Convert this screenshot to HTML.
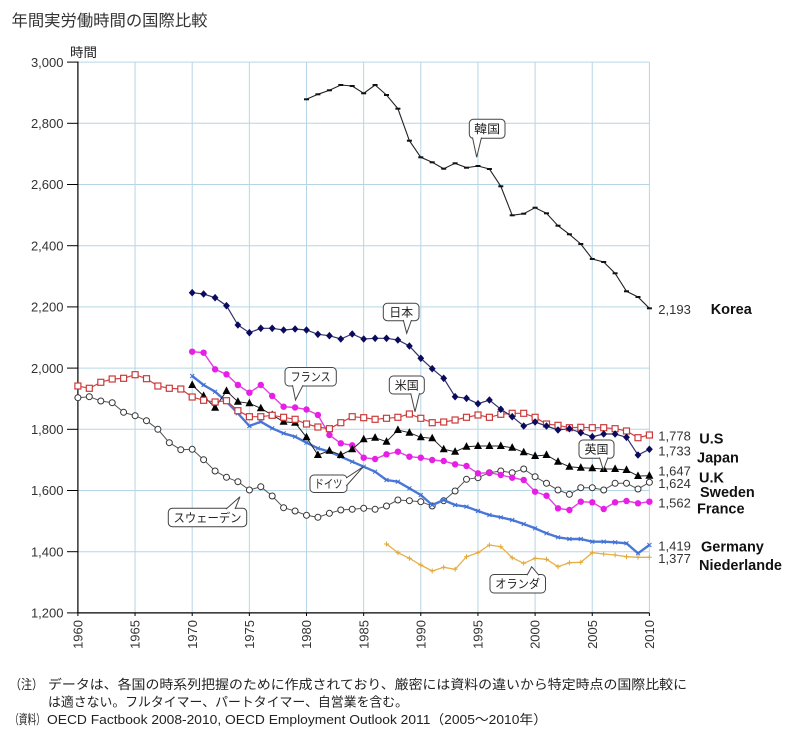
<!DOCTYPE html>
<html><head><meta charset="utf-8"><style>
html,body{margin:0;padding:0;background:#fff;}
svg{display:block;}
text{font-family:"Liberation Sans","Noto Sans CJK JP",sans-serif;}
</style></head><body>
<svg width="800" height="745" viewBox="0 0 800 745" xmlns="http://www.w3.org/2000/svg">
<defs>
<marker id="mDash" markerUnits="userSpaceOnUse" viewBox="-4 -4 8 8" markerWidth="8" markerHeight="8" refX="0" refY="0" overflow="visible"><rect x="-2.5" y="-1" width="5" height="2" fill="#111"/></marker>
<marker id="mDia" markerUnits="userSpaceOnUse" viewBox="-5 -5 10 10" markerWidth="10" markerHeight="10" refX="0" refY="0" overflow="visible"><path d="M0,-3.8 L3.4,0 L0,3.8 L-3.4,0 Z" fill="#0a0a5e"/></marker>
<marker id="mSq" markerUnits="userSpaceOnUse" viewBox="-5 -5 10 10" markerWidth="10" markerHeight="10" refX="0" refY="0" overflow="visible"><rect x="-3" y="-3" width="6" height="6" fill="#fff" stroke="#cc3b3b" stroke-width="1.2"/></marker>
<marker id="mTri" markerUnits="userSpaceOnUse" viewBox="-5 -5 10 10" markerWidth="10" markerHeight="10" refX="0" refY="0" overflow="visible"><path d="M0,-4.6 L4,3 L-4,3 Z" fill="#000"/></marker>
<marker id="mCir" markerUnits="userSpaceOnUse" viewBox="-5 -5 10 10" markerWidth="10" markerHeight="10" refX="0" refY="0" overflow="visible"><circle r="3.2" fill="#e61ee6"/></marker>
<marker id="mOc" markerUnits="userSpaceOnUse" viewBox="-5 -5 10 10" markerWidth="10" markerHeight="10" refX="0" refY="0" overflow="visible"><circle r="3" fill="#fff" stroke="#333" stroke-width="1"/></marker>
<marker id="mX" markerUnits="userSpaceOnUse" viewBox="-5 -5 10 10" markerWidth="10" markerHeight="10" refX="0" refY="0" overflow="visible"><path d="M-2,-2 L2,2 M-2,2 L2,-2" stroke="#3f6fd6" stroke-width="1"/></marker>
<marker id="mPl" markerUnits="userSpaceOnUse" viewBox="-5 -5 10 10" markerWidth="10" markerHeight="10" refX="0" refY="0" overflow="visible"><path d="M-2.5,0 L2.5,0 M0,-2.5 L0,2.5" stroke="#e0a838" stroke-width="1"/></marker>
</defs>

<!-- title -->
<text x="11.5" y="26" font-size="16" fill="#333" textLength="196" lengthAdjust="spacingAndGlyphs">年間実労働時間の国際比較</text>
<text x="70" y="57" font-size="13" fill="#222" textLength="27" lengthAdjust="spacingAndGlyphs">時間</text>

<!-- grid -->
<g stroke="#b6d6e6" stroke-width="1">
<line x1="77.9" y1="62.1" x2="649.4" y2="62.1"/>
<line x1="77.9" y1="123.3" x2="649.4" y2="123.3"/>
<line x1="77.9" y1="184.5" x2="649.4" y2="184.5"/>
<line x1="77.9" y1="245.7" x2="649.4" y2="245.7"/>
<line x1="77.9" y1="306.9" x2="649.4" y2="306.9"/>
<line x1="77.9" y1="368.1" x2="649.4" y2="368.1"/>
<line x1="77.9" y1="429.3" x2="649.4" y2="429.3"/>
<line x1="77.9" y1="490.5" x2="649.4" y2="490.5"/>
<line x1="77.9" y1="551.7" x2="649.4" y2="551.7"/>
<line x1="135.05" y1="62.1" x2="135.05" y2="612.9"/>
<line x1="192.2" y1="62.1" x2="192.2" y2="612.9"/>
<line x1="249.35" y1="62.1" x2="249.35" y2="612.9"/>
<line x1="306.5" y1="62.1" x2="306.5" y2="612.9"/>
<line x1="363.65" y1="62.1" x2="363.65" y2="612.9"/>
<line x1="420.8" y1="62.1" x2="420.8" y2="612.9"/>
<line x1="477.95" y1="62.1" x2="477.95" y2="612.9"/>
<line x1="535.1" y1="62.1" x2="535.1" y2="612.9"/>
<line x1="592.25" y1="62.1" x2="592.25" y2="612.9"/>
<line x1="649.4" y1="62.1" x2="649.4" y2="612.9"/>
</g>

<!-- axes -->
<g stroke="#000" stroke-width="1.2">
<line x1="77.9" y1="61.5" x2="77.9" y2="612.9"/>
<line x1="77.3" y1="612.9" x2="649.4" y2="612.9"/>
</g>
<g stroke="#000" stroke-width="1">
<line x1="67" y1="62.1" x2="77.9" y2="62.1"/>
<line x1="67" y1="123.3" x2="77.9" y2="123.3"/>
<line x1="67" y1="184.5" x2="77.9" y2="184.5"/>
<line x1="67" y1="245.7" x2="77.9" y2="245.7"/>
<line x1="67" y1="306.9" x2="77.9" y2="306.9"/>
<line x1="67" y1="368.1" x2="77.9" y2="368.1"/>
<line x1="67" y1="429.3" x2="77.9" y2="429.3"/>
<line x1="67" y1="490.5" x2="77.9" y2="490.5"/>
<line x1="67" y1="551.7" x2="77.9" y2="551.7"/>
<line x1="67" y1="612.9" x2="77.9" y2="612.9"/>
<line x1="77.9" y1="612.9" x2="77.9" y2="616"/>
<line x1="135.05" y1="612.9" x2="135.05" y2="616"/>
<line x1="192.2" y1="612.9" x2="192.2" y2="616"/>
<line x1="249.35" y1="612.9" x2="249.35" y2="616"/>
<line x1="306.5" y1="612.9" x2="306.5" y2="616"/>
<line x1="363.65" y1="612.9" x2="363.65" y2="616"/>
<line x1="420.8" y1="612.9" x2="420.8" y2="616"/>
<line x1="477.95" y1="612.9" x2="477.95" y2="616"/>
<line x1="535.1" y1="612.9" x2="535.1" y2="616"/>
<line x1="592.25" y1="612.9" x2="592.25" y2="616"/>
<line x1="649.4" y1="612.9" x2="649.4" y2="616"/>
</g>

<!-- y labels -->
<g font-size="13" fill="#333" text-anchor="end">
<text x="63.5" y="66.8">3,000</text>
<text x="63.5" y="128">2,800</text>
<text x="63.5" y="189.2">2,600</text>
<text x="63.5" y="250.4">2,400</text>
<text x="63.5" y="311.6">2,200</text>
<text x="63.5" y="372.8">2,000</text>
<text x="63.5" y="434">1,800</text>
<text x="63.5" y="495.2">1,600</text>
<text x="63.5" y="556.4">1,400</text>
<text x="63.5" y="617.6">1,200</text>
</g>

<!-- x labels -->
<g font-size="13" fill="#333" text-anchor="end">
<text transform="translate(77.9,620) rotate(-90)" dy="4.6">1960</text>
<text transform="translate(135.05,620) rotate(-90)" dy="4.6">1965</text>
<text transform="translate(192.2,620) rotate(-90)" dy="4.6">1970</text>
<text transform="translate(249.35,620) rotate(-90)" dy="4.6">1975</text>
<text transform="translate(306.5,620) rotate(-90)" dy="4.6">1980</text>
<text transform="translate(363.65,620) rotate(-90)" dy="4.6">1985</text>
<text transform="translate(420.8,620) rotate(-90)" dy="4.6">1990</text>
<text transform="translate(477.95,620) rotate(-90)" dy="4.6">1995</text>
<text transform="translate(535.1,620) rotate(-90)" dy="4.6">2000</text>
<text transform="translate(592.25,620) rotate(-90)" dy="4.6">2005</text>
<text transform="translate(649.4,620) rotate(-90)" dy="4.6">2010</text>
</g>

<!-- series -->
<polyline fill="none" stroke="#555" stroke-width="1" marker-start="url(#mOc)" marker-mid="url(#mOc)" marker-end="url(#mOc)" points="77.9,397.7 89.3,396.7 100.8,401 112.2,402.7 123.6,412.3 135.1,415.7 146.5,420.7 157.9,429.3 169.3,442.7 180.8,449.7 192.2,449.3 203.6,459.7 215.1,471 226.5,477.3 237.9,481.7 249.4,490 260.8,486.7 272.2,496 283.6,507.7 295.1,511 306.5,515.3 317.9,517.3 329.4,513.3 340.8,510 352.2,509.3 363.7,508.3 375.1,509.3 386.5,506 397.9,500 409.4,500.7 420.8,501.7 432.2,506 443.7,500.7 455.1,491 466.5,479.3 478,477.7 489.4,472.7 500.8,471 512.2,472.7 523.7,469 535.1,476.7 546.5,483.3 558,490 569.4,494.3 580.8,487.7 592.3,487.7 603.7,490 615.1,483.3 626.5,483.3 638,489 649.4,482.3"/>

<polyline fill="none" stroke="#e8b048" stroke-width="1.3" marker-start="url(#mPl)" marker-mid="url(#mPl)" marker-end="url(#mPl)" points="386.5,544 397.9,552.7 409.4,558.3 420.8,565 432.2,571 443.7,567.3 455.1,569.3 466.5,556.7 478,552.7 489.4,545 500.8,546.7 512.2,557.7 523.7,563.3 535.1,558.3 546.5,559.3 558,566.7 569.4,562.7 580.8,562.3 592.3,552.7 603.7,554 615.1,555 626.5,556.7 638,557.3 649.4,557.3"/>

<polyline fill="none" stroke="#4a78d8" stroke-width="2.4" stroke-linejoin="round" marker-start="url(#mX)" marker-mid="url(#mX)" marker-end="url(#mX)" points="192.2,376 203.6,385 215.1,391.7 226.5,401.7 237.9,413.3 249.4,426 260.8,421.7 272.2,428.3 283.6,433.3 295.1,436.7 306.5,442.7 317.9,448.3 329.4,451.7 340.8,456.7 352.2,461.7 363.7,466.7 375.1,471.7 386.5,480 397.9,481.7 409.4,488.3 420.8,495 432.2,505 443.7,500 455.1,505 466.5,506.7 478,511 489.4,515 500.8,517.3 512.2,520 523.7,524 535.1,528.3 546.5,533.3 558,537.3 569.4,539 580.8,539 592.3,541.7 603.7,541.7 615.1,542.3 626.5,543.3 638,553.3 649.4,545"/>

<polyline fill="none" stroke="#e23ee2" stroke-width="1.4" marker-start="url(#mCir)" marker-mid="url(#mCir)" marker-end="url(#mCir)" points="192.2,351.7 203.6,352.7 215.1,369.3 226.5,374.3 237.9,385 249.4,392.7 260.8,385 272.2,396 283.6,406.7 295.1,407.5 306.5,409.5 317.9,415 329.4,435 340.8,443.3 352.2,445.3 363.7,457.7 375.1,459 386.5,454.3 397.9,451.7 409.4,456.7 420.8,457.7 432.2,460 443.7,461 455.1,464.3 466.5,466 478,473.3 489.4,472.7 500.8,475 512.2,477.7 523.7,480 535.1,491.7 546.5,495.7 558,508.3 569.4,510 580.8,501.7 592.3,502.3 603.7,509 615.1,502.3 626.5,501 638,503.3 649.4,501.7"/>

<polyline fill="none" stroke="#222" stroke-width="1" marker-start="url(#mTri)" marker-mid="url(#mTri)" marker-end="url(#mTri)" points="192.2,385 203.6,396 215.1,407.7 226.5,391 237.9,401.7 249.4,403.3 260.8,408.3 272.2,415 283.6,421.7 295.1,422.7 306.5,437.3 317.9,455 329.4,450.7 340.8,455 352.2,449.3 363.7,439.3 375.1,437.7 386.5,441.7 397.9,430 409.4,432.7 420.8,437.3 432.2,438.3 443.7,449.3 455.1,451.7 466.5,446.7 478,446 489.4,446 500.8,446 512.2,447.7 523.7,452.3 535.1,456 546.5,455 558,461.7 569.4,466.7 580.8,467.7 592.3,468.3 603.7,469 615.1,469 626.5,470 638,476 649.4,475.7"/>

<polyline fill="none" stroke="#cc4444" stroke-width="1.2" marker-start="url(#mSq)" marker-mid="url(#mSq)" marker-end="url(#mSq)" points="77.9,386 89.3,388.3 100.8,382.3 112.2,379 123.6,378.3 135.1,374.7 146.5,378.7 157.9,386 169.3,388.3 180.8,389 192.2,397 203.6,400.3 215.1,402 226.5,400.7 237.9,410.7 249.4,416.7 260.8,416.7 272.2,415.3 283.6,417.3 295.1,419.3 306.5,424 317.9,427 329.4,428.7 340.8,422.7 352.2,416.7 363.7,417.7 375.1,419.3 386.5,418.3 397.9,417.3 409.4,414 420.8,418.3 432.2,422.7 443.7,422 455.1,420 466.5,417.3 478,415 489.4,417.3 500.8,414.3 512.2,413.3 523.7,413.3 535.1,417.3 546.5,424 558,425.3 569.4,427.7 580.8,427.3 592.3,427.7 603.7,427.7 615.1,428.7 626.5,431 638,437.7 649.4,435"/>

<polyline fill="none" stroke="#30306e" stroke-width="1.2" marker-start="url(#mDia)" marker-mid="url(#mDia)" marker-end="url(#mDia)" points="192.2,292.7 203.6,294 215.1,297.7 226.5,305.7 237.9,325 249.4,332.7 260.8,328.3 272.2,328.3 283.6,330 295.1,329 306.5,330 317.9,334.3 329.4,335.7 340.8,339 352.2,334 363.7,339 375.1,338.3 386.5,338.3 397.9,340 409.4,346 420.8,358.3 432.2,368.7 443.7,378.3 455.1,396.7 466.5,398.3 478,403.7 489.4,400 500.8,409.3 512.2,416.7 523.7,426 535.1,422 546.5,426 558,430 569.4,428.7 580.8,432.7 592.3,436.7 603.7,434 615.1,434 626.5,437.3 638,455 649.4,449.3"/>

<polyline fill="none" stroke="#222" stroke-width="1.1" marker-start="url(#mDash)" marker-mid="url(#mDash)" marker-end="url(#mDash)" points="306.5,99.3 317.9,94.3 329.4,90.3 340.8,85 352.2,86 363.7,93.3 375.1,85 386.5,95 397.9,108.7 409.4,140.7 420.8,157.3 432.2,162.3 443.7,168.7 455.1,163.3 466.5,167.7 478,166 489.4,169 500.8,186.3 512.2,215.3 523.7,213.7 535.1,207.7 546.5,213.3 558,225.7 569.4,234.3 580.8,244 592.3,259 603.7,262 615.1,273.3 626.5,291.3 638,297 649.4,308.3"/>

<!-- callouts -->
<g stroke="#444" stroke-width="1" fill="#fff">
<rect x="469.3" y="119.3" width="35.7" height="19" rx="4"/>
<path d="M472.5,137.5 L476.7,157.3 L481.5,137.5"/>
<rect x="383.3" y="303.3" width="35.7" height="17.4" rx="4"/>
<path d="M403.3,320 L406.7,333.3 L411.5,320"/>
<rect x="389.3" y="376" width="35" height="18" rx="4"/>
<path d="M410.7,393.2 L415,411.7 L419.5,393.2"/>
<rect x="579" y="440" width="35" height="18.3" rx="4"/>
<path d="M599.5,457.5 L603.3,470 L608,457.5"/>
<rect x="285" y="367.5" width="51.3" height="18.5" rx="4"/>
<path d="M292.5,385.2 L295.5,400 L303,385.2"/>
<rect x="310" y="475" width="37" height="17.5" rx="4"/>
<path d="M346.2,478 L363.3,466.7 L346.2,486"/>
<rect x="168.3" y="508.3" width="78.4" height="18.4" rx="4"/>
<path d="M226,509.1 L240,496.7 L235,509.1"/>
<rect x="490" y="574.5" width="55.5" height="18.5" rx="4"/>
<path d="M527,575.3 L531.7,566.7 L539,575.3"/>
</g>
<g font-size="12" fill="#222" text-anchor="middle">
<text x="487.2" y="133.2" textLength="26" lengthAdjust="spacingAndGlyphs">韓国</text>
<text x="401.2" y="316.5" textLength="24" lengthAdjust="spacingAndGlyphs">日本</text>
<text x="406.8" y="389.5" textLength="24" lengthAdjust="spacingAndGlyphs">米国</text>
<text x="596.5" y="453.5" textLength="24" lengthAdjust="spacingAndGlyphs">英国</text>
<text x="310.6" y="381" textLength="40" lengthAdjust="spacingAndGlyphs">フランス</text>
<text x="328.5" y="488" textLength="28" lengthAdjust="spacingAndGlyphs">ドイツ</text>
<text x="207.5" y="522" textLength="68" lengthAdjust="spacingAndGlyphs">スウェーデン</text>
<text x="517.7" y="588" textLength="45" lengthAdjust="spacingAndGlyphs">オランダ</text>
</g>

<!-- right labels -->
<g font-size="13" fill="#333">
<text x="658.3" y="313.9">2,193</text>
<text x="658.3" y="440.6">1,778</text>
<text x="658.3" y="455.3">1,733</text>
<text x="658.3" y="475.3">1,647</text>
<text x="658.3" y="487.9">1,624</text>
<text x="658.3" y="507.3">1,562</text>
<text x="658.3" y="550.6">1,419</text>
<text x="658.3" y="562.9">1,377</text>
</g>
<g font-size="14.5" font-weight="bold" fill="#111">
<text x="710.7" y="314.2">Korea</text>
<text x="699.3" y="443.5">U.S</text>
<text x="697" y="462.5">Japan</text>
<text x="699" y="482.5">U.K</text>
<text x="700" y="497">Sweden</text>
<text x="697" y="513.5">France</text>
<text x="701" y="551.5">Germany</text>
<text x="699" y="570">Niederlande</text>
</g>

<!-- footnotes -->
<g font-size="13" fill="#222">
<text x="10" y="689" textLength="33" lengthAdjust="spacingAndGlyphs">（注）</text>
<text x="48" y="689" textLength="639" lengthAdjust="spacingAndGlyphs">データは、各国の時系列把握のために作成されており、厳密には資料の違いから特定時点の国際比較に</text>
<text x="48" y="706.5" textLength="360" lengthAdjust="spacingAndGlyphs">は適さない。フルタイマー、パートタイマー、自営業を含む。</text>
<text x="10" y="724" textLength="35" lengthAdjust="spacingAndGlyphs">（資料）</text>
<text x="47" y="724" textLength="500" lengthAdjust="spacingAndGlyphs">OECD Factbook 2008-2010, OECD Employment Outlook 2011（2005～2010年）</text>
</g>
</svg>
</body></html>
